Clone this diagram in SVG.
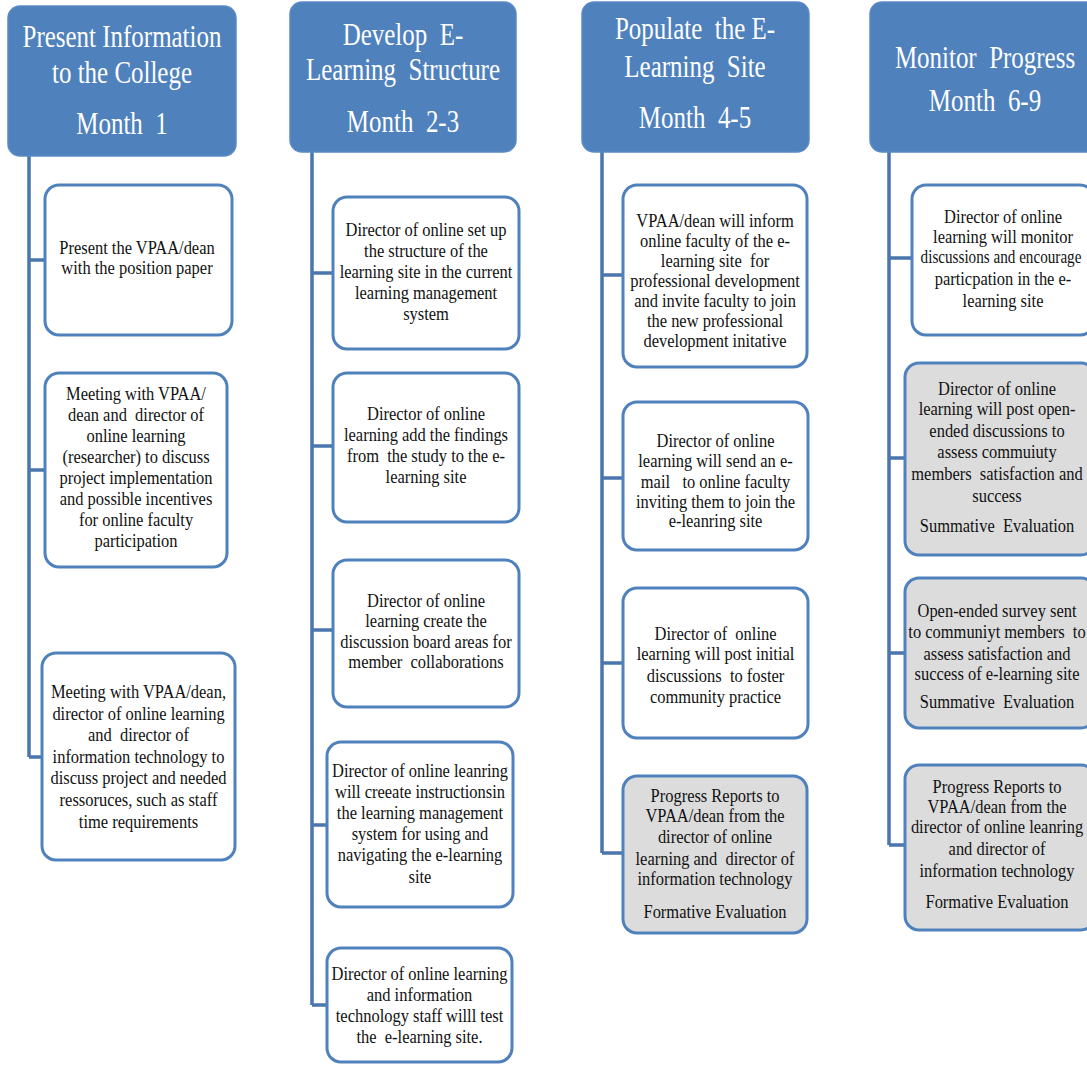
<svg xmlns="http://www.w3.org/2000/svg" width="1087" height="1065" viewBox="0 0 1087 1065">
<style>
.hd{fill:#4F81BD;stroke:#5B8BC6;stroke-width:1.5}
.bx{fill:#ffffff;stroke:#4F81BD;stroke-width:3}
.gy{fill:#DCDCDC;stroke:#4F81BD;stroke-width:3}
.ln{fill:none;stroke:#4A75AD;stroke-width:3.5}
.ht{font-family:"Liberation Serif","Times New Roman",serif;font-size:32px;fill:#ffffff;text-anchor:middle;white-space:pre}
.t{font-family:"Liberation Serif","Times New Roman",serif;font-size:18.5px;fill:#111111;text-anchor:middle;white-space:pre}
</style>
<rect width="1087" height="1065" fill="#ffffff"/>
<g id="connectors">
<path class="ln" d="M29 156V757M29 260H45M29 470H45M29 757H42"/>
<path class="ln" d="M312 152V1005M312 273H333M312 446H333M312 630H333M312 825H327M312 1005H327"/>
<path class="ln" d="M602 152V853M602 275H623M602 478H623M602 663H623M602 853H623"/>
<path class="ln" d="M889 152V845M889 258H912M889 458H905M889 653H905M889 845H905"/>
</g>
<g id="h1"><rect class="hd" x="8" y="6" width="228" height="150" rx="12"/><text class="ht" transform="translate(122 0) scale(0.78 1)"><tspan x="0" y="47">Present Information</tspan><tspan x="0" y="83">to the College</tspan><tspan x="0" y="134">Month  1</tspan></text></g>
<g id="h2"><rect class="hd" x="290" y="2" width="226" height="150" rx="12"/><text class="ht" transform="translate(403 0) scale(0.78 1)"><tspan x="0" y="45">Develop  E-</tspan><tspan x="0" y="80.5">Learning  Structure</tspan><tspan x="0" y="132">Month  2-3</tspan></text></g>
<g id="h3"><rect class="hd" x="582" y="2" width="227" height="150" rx="12"/><text class="ht" transform="translate(695 0) scale(0.78 1)"><tspan x="0" y="39">Populate  the E-</tspan><tspan x="0" y="77">Learning  Site</tspan><tspan x="0" y="128">Month  4-5</tspan></text></g>
<g id="h4"><rect class="hd" x="870" y="2" width="232" height="150" rx="12"/><text class="ht" transform="translate(985 0) scale(0.78 1)"><tspan x="0" y="68">Monitor  Progress</tspan><tspan x="0" y="111">Month  6-9</tspan></text></g>

<g id="c1b1"><rect class="bx" x="45" y="185" width="187" height="150" rx="14"/><text class="t" transform="translate(137 0) scale(0.89 1)"><tspan x="0" y="254">Present the VPAA/dean</tspan><tspan x="0" y="274">with the position paper</tspan></text></g>
<g id="c1b2"><rect class="bx" x="45" y="373" width="182" height="194" rx="14"/><text class="t" transform="translate(136 0) scale(0.89 1)"><tspan x="0" y="400">Meeting with VPAA/</tspan><tspan x="0" y="421">dean and  director of</tspan><tspan x="0" y="442">online learning</tspan><tspan x="0" y="463">(researcher) to discuss</tspan><tspan x="0" y="484">project implementation</tspan><tspan x="0" y="505">and possible incentives</tspan><tspan x="0" y="526">for online faculty</tspan><tspan x="0" y="547">participation</tspan></text></g>
<g id="c1b3"><rect class="bx" x="42" y="653" width="193" height="207" rx="14"/><text class="t" transform="translate(138.5 0) scale(0.89 1)"><tspan x="0" y="698">Meeting with VPAA/dean,</tspan><tspan x="0" y="720">director of online learning</tspan><tspan x="0" y="741">and  director of</tspan><tspan x="0" y="763">information technology to</tspan><tspan x="0" y="784">discuss project and needed</tspan><tspan x="0" y="806">ressoruces, such as staff</tspan><tspan x="0" y="828">time requirements</tspan></text></g>

<g id="c2b1"><rect class="bx" x="333" y="197" width="186" height="152" rx="14"/><text class="t" transform="translate(426 0) scale(0.89 1)"><tspan x="0" y="236">Director of online set up</tspan><tspan x="0" y="257">the structure of the</tspan><tspan x="0" y="278">learning site in the current</tspan><tspan x="0" y="299">learning management</tspan><tspan x="0" y="320">system</tspan></text></g>
<g id="c2b2"><rect class="bx" x="333" y="373" width="186" height="149" rx="14"/><text class="t" transform="translate(426 0) scale(0.89 1)"><tspan x="0" y="420">Director of online</tspan><tspan x="0" y="441">learning add the findings</tspan><tspan x="0" y="462">from  the study to the e-</tspan><tspan x="0" y="483">learning site</tspan></text></g>
<g id="c2b3"><rect class="bx" x="333" y="560" width="186" height="147" rx="14"/><text class="t" transform="translate(426 0) scale(0.89 1)"><tspan x="0" y="607">Director of online</tspan><tspan x="0" y="627">learning create the</tspan><tspan x="0" y="648">discussion board areas for</tspan><tspan x="0" y="668">member  collaborations</tspan></text></g>
<g id="c2b4"><rect class="bx" x="327" y="742" width="186" height="165" rx="14"/><text class="t" transform="translate(420 0) scale(0.89 1)"><tspan x="0" y="777">Director of online leanring</tspan><tspan x="0" y="798">will creeate instructionsin</tspan><tspan x="0" y="819">the learning management</tspan><tspan x="0" y="840">system for using and</tspan><tspan x="0" y="861">navigating the e-learning</tspan><tspan x="0" y="883">site</tspan></text></g>
<g id="c2b5"><rect class="bx" x="327" y="948" width="185" height="114" rx="14"/><text class="t" transform="translate(419.5 0) scale(0.89 1)"><tspan x="0" y="980">Director of online learning</tspan><tspan x="0" y="1001">and information</tspan><tspan x="0" y="1022">technology staff willl test</tspan><tspan x="0" y="1043">the  e-learning site.</tspan></text></g>

<g id="c3b1"><rect class="bx" x="623" y="185" width="184" height="182" rx="14"/><text class="t" transform="translate(715 0) scale(0.89 1)"><tspan x="0" y="227">VPAA/dean will inform</tspan><tspan x="0" y="247">online faculty of the e-</tspan><tspan x="0" y="267">learning site  for</tspan><tspan x="0" y="287">professional development</tspan><tspan x="0" y="307">and invite faculty to join</tspan><tspan x="0" y="327">the new professional</tspan><tspan x="0" y="347">development initative</tspan></text></g>
<g id="c3b2"><rect class="bx" x="623" y="402" width="185" height="148" rx="14"/><text class="t" transform="translate(715.5 0) scale(0.89 1)"><tspan x="0" y="447">Director of online</tspan><tspan x="0" y="467">learning will send an e-</tspan><tspan x="0" y="488">mail   to online faculty</tspan><tspan x="0" y="508">inviting them to join the</tspan><tspan x="0" y="527">e-leanring site</tspan></text></g>
<g id="c3b3"><rect class="bx" x="623" y="588" width="185" height="150" rx="14"/><text class="t" transform="translate(715.5 0) scale(0.89 1)"><tspan x="0" y="640">Director of  online</tspan><tspan x="0" y="660">learning will post initial</tspan><tspan x="0" y="682">discussions  to foster</tspan><tspan x="0" y="703">community practice</tspan></text></g>
<g id="c3b4"><rect class="gy" x="623" y="776" width="184" height="157" rx="14"/><text class="t" transform="translate(715 0) scale(0.89 1)"><tspan x="0" y="802">Progress Reports to</tspan><tspan x="0" y="822">VPAA/dean from the</tspan><tspan x="0" y="843">director of online</tspan><tspan x="0" y="865">learning and  director of</tspan><tspan x="0" y="885">information technology</tspan><tspan x="0" y="918">Formative Evaluation</tspan></text></g>

<g id="c4b1"><rect class="bx" x="912" y="185" width="182" height="150" rx="14"/><text class="t" transform="translate(1003 0) scale(0.89 1)"><tspan x="0" y="223">Director of online</tspan><tspan x="0" y="243">learning will monitor</tspan><tspan x="0" y="285">particpation in the e-</tspan><tspan x="0" y="307">learning site</tspan></text><text class="t" transform="translate(1001 0) scale(0.82 1)"><tspan x="0" y="263">discussions and encourage</tspan></text></g>
<g id="c4b2"><rect class="gy" x="905" y="363" width="190" height="192" rx="14"/><text class="t" transform="translate(997 0) scale(0.89 1)"><tspan x="0" y="395">Director of online</tspan><tspan x="0" y="415">learning will post open-</tspan><tspan x="0" y="437">ended discussions to</tspan><tspan x="0" y="458">assess commuiuty</tspan><tspan x="0" y="480">members  satisfaction and</tspan><tspan x="0" y="502">success</tspan><tspan x="0" y="532">Summative  Evaluation</tspan></text></g>
<g id="c4b3"><rect class="gy" x="905" y="578" width="190" height="150" rx="14"/><text class="t" transform="translate(997 0) scale(0.89 1)"><tspan x="0" y="617">Open-ended survey sent</tspan><tspan x="0" y="638">to communiyt members  to</tspan><tspan x="0" y="660">assess satisfaction and</tspan><tspan x="0" y="680">success of e-learning site</tspan><tspan x="0" y="708">Summative  Evaluation</tspan></text></g>
<g id="c4b4"><rect class="gy" x="905" y="765" width="190" height="165" rx="14"/><text class="t" transform="translate(997 0) scale(0.89 1)"><tspan x="0" y="793">Progress Reports to</tspan><tspan x="0" y="813">VPAA/dean from the</tspan><tspan x="0" y="833">director of online leanring</tspan><tspan x="0" y="855">and director of</tspan><tspan x="0" y="877">information technology</tspan><tspan x="0" y="908">Formative Evaluation</tspan></text></g>
</svg>
